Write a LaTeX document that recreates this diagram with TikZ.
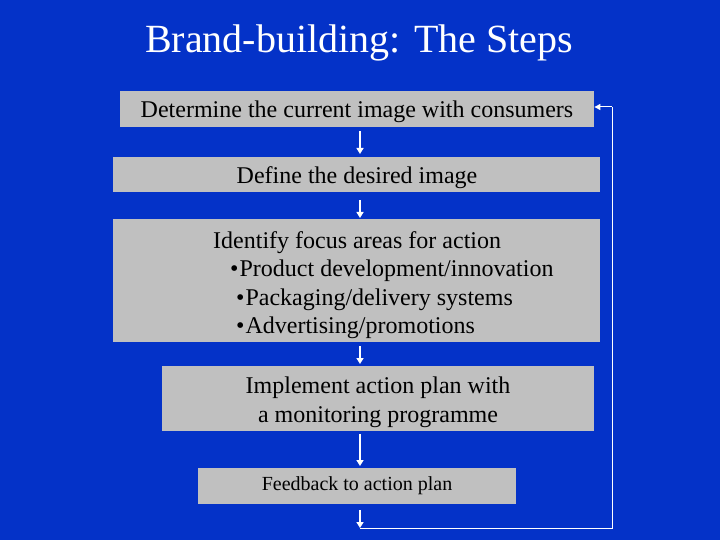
\documentclass[tikz,border=0pt]{standalone}
\usepackage{fontspec}
\setmainfont{Liberation Serif}
\usetikzlibrary{arrows.meta}
\definecolor{slideblue}{RGB}{4,50,200}
\definecolor{boxgray}{RGB}{192,192,192}
\tikzset{
  stepbox/.style={fill=boxgray, draw=none, inner sep=0pt, anchor=north west},
  boxtext/.style={text=black, font=\fontsize{24}{28}\selectfont, inner sep=0pt},
  arr/.style={draw=white, line width=1.6pt, -{Triangle[length=6pt,width=7pt]}},
  loopline/.style={draw=white, line width=1pt},
}
\begin{document}
\begin{tikzpicture}[x=1pt,y=-1pt]
\useasboundingbox (0,0) rectangle (720,540);
\fill[slideblue] (0,0) rectangle (720,540);
\node[text=white, font=\fontsize{40}{44}\selectfont, anchor=base, inner sep=0pt] (title) at (359,53) {Brand-building: The Steps};
% boxes
\node[stepbox, minimum width=474pt, minimum height=36pt] (b1) at (120,91) {};
\node[stepbox, minimum width=487pt, minimum height=35pt] (b2) at (113,157) {};
\node[stepbox, minimum width=487pt, minimum height=123pt] (b3) at (113,219) {};
\node[stepbox, minimum width=432pt, minimum height=65pt] (b4) at (162,366) {};
\node[stepbox, minimum width=318pt, minimum height=36pt] (b5) at (198,468) {};
% texts
\node[boxtext, anchor=base] (t1) at (357,118) {Determine the current image with consumers};
\node[boxtext, anchor=base] (t2) at (357,184) {Define the desired image};
\node[boxtext, anchor=base west] (t3a) at (213,248) {Identify focus areas for action};
\node[boxtext, anchor=base west] (t3b) at (230,276) {•\kern1pt Product development/innovation};
\node[boxtext, anchor=base west] (t3c) at (236,305) {•\kern1pt Packaging/delivery systems};
\node[boxtext, anchor=base west] (t3d) at (236,333) {•\kern1pt Advertising/promotions};
\node[boxtext, anchor=base] (t4a) at (378,393) {Implement action plan with};
\node[boxtext, anchor=base] (t4b) at (378,422) {a monitoring programme};
\node[boxtext, anchor=base, font=\fontsize{20}{24}\selectfont] (t5) at (357,490) {Feedback to action plan};
% arrows
\coordinate (ax) at (360,0);
\coordinate (la) at (360,528);
\coordinate (lb) at (612,528);
\coordinate (lc) at (612,107);
\draw[arr] ([yshift=-4pt]b1.south -| ax) -- ([yshift=3pt]b2.north -| ax);
\draw[arr] ([yshift=-8pt]b2.south -| ax) -- ([yshift=1pt]b3.north -| ax);
\draw[arr] ([yshift=-4pt]b3.south -| ax) -- ([yshift=2pt]b4.north -| ax);
\draw[arr] ([yshift=-3pt]b4.south -| ax) -- ([yshift=2pt]b5.north -| ax);
\draw[arr] ([yshift=-6pt]b5.south -| ax) -- (la);
\draw[loopline] (la) -- (lb) -- (lc);
\draw[loopline, -{Triangle[length=6pt,width=6pt]}] (lc) -- (b1.east |- lc);
\end{tikzpicture}
\end{document}
